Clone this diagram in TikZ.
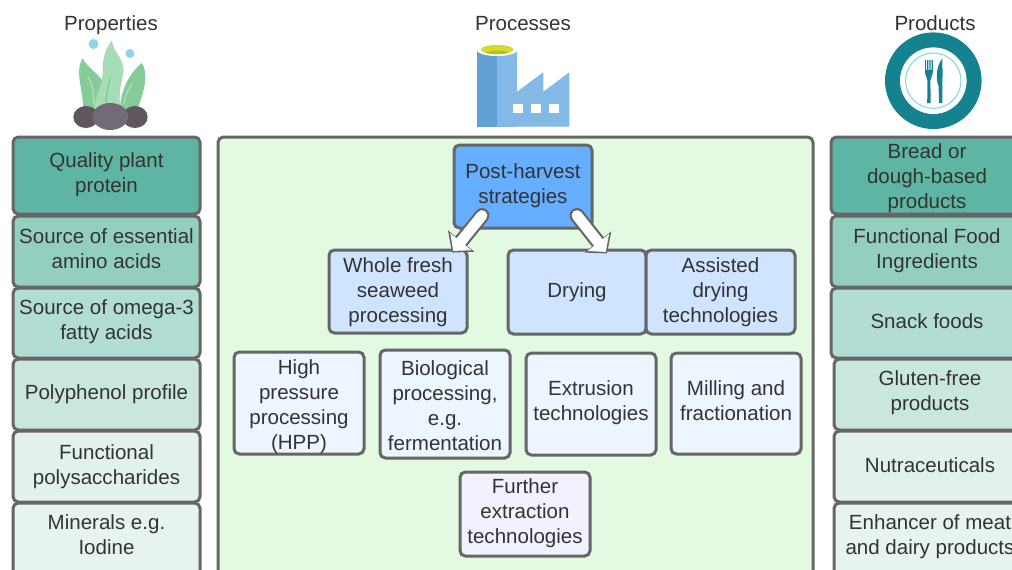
\documentclass[tikz,border=0pt]{standalone}
\usepackage{fontspec}
\setmainfont{Liberation Sans}
\usetikzlibrary{calc,arrows.meta}
\definecolor{ink}{HTML}{333333}
\definecolor{edge}{HTML}{666666}
\definecolor{pa}{HTML}{5FB5A3}
\definecolor{pb}{HTML}{93CFC1}
\definecolor{pc}{HTML}{B2DDD4}
\definecolor{pd}{HTML}{C9E6DF}
\definecolor{pe}{HTML}{E2F1EE}
\definecolor{pf}{HTML}{E6F3F0}
\definecolor{panel}{HTML}{E3F9E2}
\definecolor{bluea}{HTML}{66AEFF}
\definecolor{blueb}{HTML}{CFE4FF}
\definecolor{bluec}{HTML}{EDF5FF}
\definecolor{blued}{HTML}{F1F2FD}
\definecolor{leafa}{HTML}{85CC9A}
\definecolor{leafb}{HTML}{A6DDB6}
\definecolor{veina}{HTML}{A6DDB6}
\definecolor{veinb}{HTML}{85CC9A}
\definecolor{rocka}{HTML}{5F5660}
\definecolor{rockb}{HTML}{736A78}
\definecolor{bub}{HTML}{8FD5E8}
\definecolor{facta}{HTML}{629FD3}
\definecolor{factb}{HTML}{83B9E6}
\definecolor{capa}{HTML}{D9D92B}
\definecolor{capb}{HTML}{A9C41B}
\definecolor{teal}{HTML}{14838F}
\definecolor{ringc}{HTML}{86D8E0}
\tikzset{
  x=0.75pt,y=-0.75pt,
  bx/.style={draw=edge,line width=2.25pt,rounded corners=4pt,inner sep=0pt},
  lab/.style={inner sep=0pt,align=center,text=ink,font=\fontsize{15.4}{18.75}\selectfont},
  arrowout/.style={draw=edge,line width=11.25pt,line cap=round,-{Triangle[length=11pt,width=25pt]}},
  arrowin/.style={draw=white,line width=8pt,line cap=round,shorten >=1.5pt,-{Triangle[length=9pt,width=20pt]}},
}
% name, x0, y0, x1, y1, fill, text, vertical text offset
\newcommand{\bx}[8]{%
  \pgfmathsetmacro{\bw}{(#4-#2)*0.75}\pgfmathsetmacro{\bh}{(#5-#3)*0.75}%
  \node[bx,fill=#6,minimum width=\bw pt,minimum height=\bh pt] (#1) at ({(#2+#4)/2},{(#3+#5)/2}) {};
  \node[lab] (#1t) at ($(#1.center)+(0,#8)$) {#7};}
\begin{document}
\begin{tikzpicture}
\useasboundingbox (0,0) rectangle (1012,569);
\clip (0,0) rectangle (1012,569);
\fill[white] (0,0) rectangle (1012,569);
% headers
\node[lab] (hprop) at (111,25) {Properties};
\node[lab] (hproc) at (523,24) {Processes};
\node[lab] (hprod) at (935,23) {Products};
% seaweed
\fill[leafa] (82.7,58) .. controls (86,66) and (96,72) .. (102,80) -- (100,110) -- (83,110) .. controls (84,92) and (74,72) .. (82.7,58) -- cycle;
\fill[leafa] (141.7,63) .. controls (148,72) and (146,88) .. (137,110) -- (120,110) .. controls (120,96) and (126,76) .. (141.7,63) -- cycle;
\fill[leafb] (111.7,40.7) .. controls (114,52) and (124,60) .. (123.5,70) .. controls (123,82) and (117,90) .. (121,110) -- (94,110) .. controls (96,96) and (100,88) .. (102,80) .. controls (104,68) and (100,56) .. (111.7,40.7) -- cycle;
\draw[veina,line width=1.2pt,line cap=round] (88,77) .. controls (92,84) and (94,92) .. (94,104);
\draw[veina,line width=1.2pt,line cap=round] (132,84) .. controls (128,90) and (125,96) .. (124,104);
\draw[veinb,line width=1.2pt,line cap=round] (110,78) .. controls (108,88) and (106,96) .. (106,104);
\fill[bub] (93.5,44) circle (5);
\fill[bub] (130,53.5) circle (4.5);
\fill[rocka] (86,117) ellipse (12.7 and 11);
\fill[rocka] (135,117) ellipse (12.7 and 11);
\fill[rockb] (110.3,116.5) ellipse (17.8 and 13.5);
% factory
\fill[factb] (496.7,50) rectangle (517.3,126.7);
\fill[facta] (476.7,50) rectangle (496.7,126.7);
\fill[factb] (517,91.7) -- (543.3,72.3) -- (543.3,91.7) -- (569.3,72.3) -- (569.3,126.7) -- (517,126.7) -- cycle;
\fill[white] (513.3,104) rectangle (523.3,113.3);
\fill[white] (531.3,104) rectangle (541.3,113.3);
\fill[white] (549.3,104) rectangle (559.3,113.3);
\fill[white] (497,49.5) ellipse (20.7 and 6.5);
\fill[capa] (497,49.5) ellipse (16.3 and 4.6);
\begin{scope}
\clip (497,49.5) ellipse (16.3 and 4.6);
\fill[capb] (497,55) ellipse (14 and 4.5);
\end{scope}
% plate
\fill[teal] (933.3,80.7) circle (48.3);
\fill[white] (933.3,80.7) circle (33.3);
\draw[ringc,line width=0.8pt] (933.3,80.7) circle (27.7);
\fill[teal] (925,60) rectangle (926.2,71) (927.2,60) rectangle (928.4,71) (929.4,60) rectangle (930.6,71) (931.6,60) rectangle (932.8,71);
\fill[teal] (925,70) -- (932.8,70) -- (932.8,72) .. controls (932.8,76) and (930.6,77) .. (930.4,80) -- (930.6,103) -- (927.2,103) -- (927.4,80) .. controls (927.2,77) and (925,76) .. (925,72) -- cycle;
\fill[teal] (942.4,58.3) .. controls (942.6,70) and (942.4,90) .. (942.4,103) -- (939,103) -- (938.6,86) .. controls (935.5,80) and (936,66) .. (942.4,58.3) -- cycle;
% left column
\bx{la}{13}{137}{200}{214}{pa}{Quality plant\\protein}{-1}
\bx{lb}{13}{216}{200}{287}{pb}{Source of essential\\amino acids}{-3}
\bx{lc}{13}{288}{200}{358}{pc}{Source of omega-3\\fatty acids}{-1}
\bx{ld}{13}{359}{200}{430}{pd}{Polyphenol profile}{0}
\bx{le}{13}{431}{200}{502}{pe}{Functional\\polysaccharides}{0}
\bx{lf}{13}{503}{200}{603}{pf}{Minerals e.g.\\Iodine}{-18.5}
% centre panel
\node[bx,fill=panel,minimum width=446.25pt,minimum height=345pt] (panel) at (515.5,367) {};
\bx{post}{454}{145}{592}{228}{bluea}{Post-harvest\\strategies}{-1}
\bx{whole}{329}{250}{467}{333}{blueb}{Whole fresh\\seaweed\\processing}{0.5}
\bx{dry}{508}{250}{646}{334}{blueb}{Drying}{0}
\bx{assist}{646}{250}{795}{334}{blueb}{Assisted\\drying\\technologies}{0}
\bx{hpp}{234}{352}{364}{454}{bluec}{High\\pressure\\processing\\(HPP)}{4}
\bx{bio}{380}{350}{510}{458}{bluec}{Biological\\processing,\\e.g.\\fermentation}{2}
\bx{ext}{526}{353}{656}{455}{bluec}{Extrusion\\technologies}{-1}
\bx{mill}{671}{353}{801}{454}{bluec}{Milling and\\fractionation}{-3}
\bx{fur}{460}{472}{590}{556}{blued}{Further\\extraction\\technologies}{-1}
% right column
\bx{ra}{831}{137}{1023}{214}{pa}{Bread or\\dough-based\\products}{3}
\bx{rb}{831}{216}{1023}{287}{pb}{Functional Food\\Ingredients}{-1}
\bx{rc}{831}{288}{1023}{358}{pc}{Snack foods}{-2}
\bx{rd}{834}{359}{1026}{430}{pd}{Gluten-free\\products}{-2}
\bx{re}{834}{431}{1026}{502}{pe}{Nutraceuticals}{-1}
\bx{rf}{834}{503}{1026}{603}{pf}{Enhancer of meat\\and dairy products}{-16.5}
% arrows
\coordinate (a1s) at ($(post.south)+(-41,-14)$);
\coordinate (a1e) at ($(whole.north)+(54,4)$);
\coordinate (a2s) at ($(post.south)+(54,-14)$);
\coordinate (a2e) at ($(dry.north)+(30,5)$);
\draw[arrowout] (a1s) -- (a1e);
\draw[arrowout] (a2s) -- (a2e);
\draw[arrowin] (a1s) -- (a1e);
\draw[arrowin] (a2s) -- (a2e);
\end{tikzpicture}
\end{document}
